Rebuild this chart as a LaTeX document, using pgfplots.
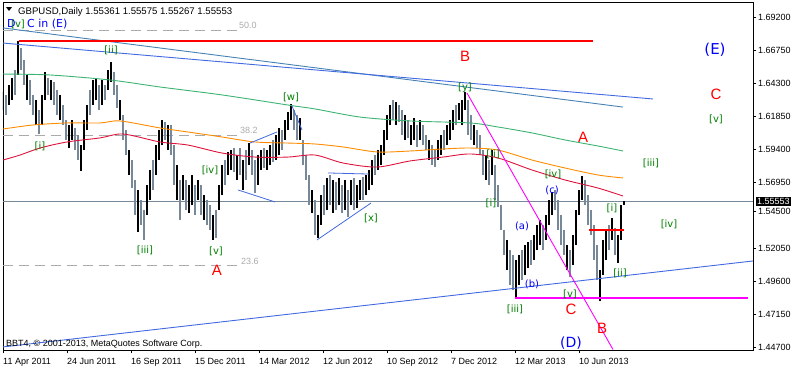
\documentclass[border=0pt]{standalone}
\usepackage{pgfplots}
\pgfplotsset{compat=1.18}
\usepackage{pgfplotstable}
\usepackage{fontspec}
\setmainfont{Liberation Sans}
\newfontfamily\dv{DejaVu Sans}
\definecolor{barGray}{RGB}{119,136,153}
\definecolor{maGreen}{RGB}{60,179,113}
\definecolor{maOrange}{RGB}{255,140,0}
\definecolor{maCrimson}{RGB}{220,20,60}
\definecolor{royal}{RGB}{65,105,225}
\definecolor{steel}{RGB}{70,130,180}
\definecolor{fibGray}{RGB}{170,170,170}
\definecolor{wGreen}{RGB}{0,128,0}
\definecolor{wBlue}{RGB}{0,0,255}
\definecolor{mag}{RGB}{255,0,255}
\definecolor{rd}{RGB}{255,0,0}

\pgfplotstableread{
x lo hi c
3 1.6232 1.6366 1
6 1.6195 1.6344 0
9 1.6269 1.6418 1
12 1.6306 1.6470 1
15 1.6344 1.6529 0
18 1.6492 1.6742 1
21 1.6529 1.6692 0
24 1.6418 1.6603 0
27 1.6306 1.6492 1
30 1.6269 1.6455 0
33 1.6195 1.6344 0
36 1.6121 1.6306 1
39 1.6054 1.6232 0
42 1.6121 1.6344 1
45 1.6306 1.6514 1
48 1.6344 1.6470 0
51 1.6306 1.6455 1
54 1.6269 1.6440 0
57 1.6195 1.6381 0
60 1.6158 1.6344 1
63 1.6121 1.6269 0
66 1.6010 1.6158 0
69 1.5950 1.6121 1
72 1.6010 1.6158 1
75 1.5935 1.6099 0
78 1.5861 1.6047 0
81 1.5780 1.5972 1
84 1.5935 1.6158 1
87 1.6084 1.6269 1
90 1.6195 1.6381 0
93 1.6269 1.6455 1
96 1.6306 1.6470 1
99 1.6232 1.6418 0
102 1.6269 1.6455 1
105 1.6306 1.6418 0
108 1.6381 1.6529 1
111 1.6440 1.6588 1
114 1.6344 1.6514 0
117 1.6247 1.6418 0
120 1.6158 1.6306 1
123 1.6010 1.6195 0
126 1.5898 1.6084 0
129 1.5750 1.5935 1
132 1.5653 1.5861 0
135 1.5453 1.5713 0
138 1.5327 1.5639 1
141 1.5379 1.5564 0
144 1.5268 1.5490 0
147 1.5453 1.5676 1
150 1.5564 1.5787 1
153 1.5639 1.5861 0
156 1.5750 1.5972 1
159 1.5861 1.6084 1
162 1.5972 1.6158 1
165 1.6010 1.6143 0
168 1.5935 1.6121 1
171 1.5898 1.6121 0
174 1.5676 1.5972 0
177 1.5564 1.5824 1
180 1.5416 1.5713 0
183 1.5564 1.5750 1
186 1.5490 1.5713 0
189 1.5468 1.5676 1
192 1.5527 1.5750 1
195 1.5453 1.5676 0
198 1.5564 1.5713 1
201 1.5453 1.5676 0
204 1.5416 1.5601 1
207 1.5379 1.5564 0
210 1.5342 1.5527 0
213 1.5268 1.5453 1
216 1.5283 1.5490 0
219 1.5490 1.5676 1
222 1.5601 1.5824 1
225 1.5676 1.5861 0
228 1.5750 1.5921 1
231 1.5787 1.5935 1
234 1.5772 1.5950 0
237 1.5713 1.5898 1
240 1.5750 1.5950 0
243 1.5639 1.5861 1
246 1.5713 1.5935 0
249 1.5824 1.5987 1
252 1.5750 1.5935 0
255 1.5616 1.5861 0
258 1.5676 1.5898 1
261 1.5787 1.5935 1
264 1.5802 1.5950 0
267 1.5787 1.5935 1
270 1.5824 1.5972 1
273 1.5846 1.6010 0
276 1.5861 1.6047 1
279 1.5898 1.6099 1
282 1.5935 1.6084 0
285 1.6010 1.6158 1
288 1.6084 1.6217 1
291 1.6158 1.6277 1
294 1.6084 1.6232 0
297 1.6010 1.6195 0
300 1.6010 1.6173 1
303 1.5824 1.6010 0
306 1.5713 1.5898 0
309 1.5527 1.5750 0
312 1.5468 1.5639 1
315 1.5305 1.5564 0
318 1.5283 1.5453 1
321 1.5379 1.5601 1
324 1.5453 1.5676 0
327 1.5490 1.5728 1
330 1.5527 1.5750 0
333 1.5468 1.5713 1
336 1.5490 1.5698 0
339 1.5527 1.5728 1
342 1.5468 1.5676 0
345 1.5490 1.5713 1
348 1.5438 1.5639 0
351 1.5527 1.5713 1
354 1.5490 1.5728 0
357 1.5505 1.5676 1
360 1.5564 1.5713 1
363 1.5564 1.5735 0
366 1.5601 1.5750 1
369 1.5639 1.5787 1
372 1.5676 1.5861 1
375 1.5750 1.5898 0
378 1.5787 1.5935 1
381 1.5824 1.5972 1
384 1.5898 1.6084 1
387 1.6010 1.6195 1
390 1.6121 1.6269 1
393 1.6158 1.6306 0
396 1.6121 1.6292 1
399 1.6143 1.6269 0
402 1.6047 1.6232 0
405 1.6010 1.6195 1
408 1.6025 1.6158 0
411 1.5972 1.6121 1
414 1.6010 1.6173 1
417 1.5958 1.6121 0
420 1.6010 1.6158 1
423 1.5972 1.6121 0
426 1.5935 1.6047 0
429 1.5861 1.6010 1
432 1.5824 1.5972 0
435 1.5809 1.5935 0
438 1.5861 1.6010 1
441 1.5898 1.6047 1
444 1.5935 1.6084 0
447 1.5972 1.6121 1
450 1.6010 1.6158 1
453 1.6084 1.6232 1
456 1.6121 1.6269 0
459 1.6158 1.6284 1
462 1.6121 1.6306 1
465 1.6232 1.6366 1
468 1.6047 1.6306 0
471 1.6010 1.6195 0
474 1.5972 1.6121 1
477 1.5950 1.6084 0
480 1.5898 1.6047 0
483 1.5750 1.5935 0
486 1.5713 1.5898 1
489 1.5676 1.5861 0
492 1.5750 1.5935 1
495 1.5564 1.5824 0
498 1.5512 1.5676 0
501 1.5342 1.5527 0
504 1.5156 1.5342 0
507 1.5045 1.5268 1
510 1.4934 1.5193 0
513 1.4897 1.5156 0
516 1.4845 1.5119 1
519 1.4934 1.5156 1
522 1.4971 1.5193 0
525 1.5008 1.5231 1
528 1.5060 1.5253 1
531 1.5082 1.5268 0
534 1.5119 1.5305 1
537 1.5193 1.5379 1
540 1.5231 1.5416 1
543 1.5193 1.5379 0
546 1.5268 1.5453 1
549 1.5379 1.5564 1
552 1.5453 1.5624 1
555 1.5490 1.5639 0
558 1.5342 1.5564 0
561 1.5231 1.5453 0
564 1.5156 1.5342 0
567 1.5045 1.5231 1
570 1.4993 1.5193 0
573 1.5082 1.5305 1
576 1.5231 1.5490 1
579 1.5453 1.5639 1
582 1.5564 1.5743 1
585 1.5527 1.5713 0
588 1.5379 1.5601 0
591 1.5305 1.5490 0
594 1.5119 1.5379 0
597 1.4971 1.5231 0
600 1.4815 1.5045 1
603 1.5008 1.5268 1
606 1.5119 1.5342 1
609 1.5193 1.5379 0
612 1.5268 1.5431 1
615 1.5156 1.5357 0
618 1.5097 1.5305 1
621 1.5268 1.5527 1
624 1.55267 1.55575 1
}\bars

\begin{document}
\begin{tikzpicture}
\path[use as bounding box] (0,0) rectangle (796pt,369pt);
\begin{axis}[
  at={(3pt,18.5pt)}, anchor=south west, scale only axis,
  width=750pt, height=348.5pt,
  xmin=3, xmax=753, ymin=1.44477, ymax=1.70336,
  axis line style={black, line width=0.8pt},
  xtick={3,67,131,195,259,323,387,451,515,579},
  xticklabels={11 Apr 2011,24 Jun 2011,16 Sep 2011,15 Dec 2011,14 Mar 2012,12 Jun 2012,10 Sep 2012,7 Dec 2012,12 Mar 2013,10 Jun 2013},
  ytick={1.447,1.4715,1.496,1.5205,1.5478,1.5695,1.594,1.6185,1.643,1.6675,1.692},
  yticklabels={1.44700,1.47150,1.49600,1.52050,1.54500,1.56950,1.59400,1.61850,1.64300,1.66750,1.69200},
  xtick pos=left, ytick pos=right, yticklabel pos=right,
  tick align=outside, major tick length=3pt,
  tick style={black, line width=0.6pt},
  /pgf/number format/assume math mode=true,
  xticklabel style={anchor=north west, inner sep=0pt, yshift=-4.5pt, font=\fontsize{9}{10}\selectfont},
  yticklabel style={anchor=west, inner sep=0pt, xshift=2pt, font=\fontsize{9}{10}\selectfont},
]
% fib levels
\addplot[fibGray, line width=1pt, dash pattern=on 10pt off 6pt] coordinates {(3,1.6824) (238,1.6824)};
\addplot[fibGray, line width=1pt, dash pattern=on 10pt off 6pt] coordinates {(3,1.6043) (238,1.6043)};
\addplot[fibGray, line width=1pt, dash pattern=on 10pt off 6pt] coordinates {(3,1.5077) (238,1.5077)};
% current price line
\addplot[barGray, line width=0.8pt] coordinates {(3,1.55553) (753,1.55553)};
% bars
\addplot[draw=none, mark=none, restrict expr to domain={\thisrow{c}}{0:0},
  error bars/.cd, y dir=plus, y explicit, error mark=none,
  error bar style={draw=barGray, line width=2.2pt}]
  table[x=x, y=lo, y error expr=\thisrow{hi}-\thisrow{lo}] {\bars};
\addplot[draw=none, mark=none, restrict expr to domain={\thisrow{c}}{1:1},
  error bars/.cd, y dir=plus, y explicit, error mark=none,
  error bar style={draw=black, line width=2.2pt}]
  table[x=x, y=lo, y error expr=\thisrow{hi}-\thisrow{lo}] {\bars};
% moving averages
\addplot[maGreen, line width=0.9pt, smooth] coordinates {(3,1.6499) (50,1.6492) (110,1.6455) (160,1.6403) (222,1.6344) (288,1.6269) (315,1.6240) (360,1.6180) (410,1.6151) (470,1.6136) (498,1.6106) (532,1.6062) (565,1.6010) (598,1.5965) (623,1.5928)};
\addplot[maOrange, line width=0.9pt, smooth] coordinates {(3,1.6091) (33,1.6121) (67,1.6136) (100,1.6136) (120,1.6151) (160,1.6099) (188,1.6069) (222,1.6032) (255,1.5995) (288,1.5987) (315,1.5980) (343,1.5958) (377,1.5921) (410,1.5928) (443,1.5943) (470,1.5950) (498,1.5935) (532,1.5861) (565,1.5802) (598,1.5750) (623,1.5728)};
\addplot[maCrimson, line width=0.9pt, smooth] coordinates {(3,1.5861) (20,1.5898) (40,1.5950) (67,1.5995) (100,1.6025) (123,1.6054) (160,1.5995) (188,1.5972) (222,1.5913) (255,1.5883) (288,1.5883) (315,1.5898) (343,1.5839) (377,1.5809) (410,1.5854) (443,1.5883) (470,1.5906) (498,1.5876) (532,1.5787) (565,1.5713) (598,1.5653) (623,1.5594)};
% trend lines
\addplot[steel, line width=0.9pt] coordinates {(3,1.6841) (623,1.6254)};
\addplot[royal, line width=0.9pt] coordinates {(3,1.6729) (653,1.6314)};
\addplot[royal, line width=0.9pt] coordinates {(3,1.4474) (753,1.5112)};
\addplot[royal, line width=0.8pt] coordinates {(238,1.5639) (275,1.5550)};
\addplot[royal, line width=0.8pt] coordinates {(250,1.5987) (277,1.6069)};
\addplot[royal, line width=0.8pt] coordinates {(292,1.6262) (302,1.6084)};
\addplot[royal, line width=0.8pt] coordinates {(328,1.5765) (369,1.5757)};
\addplot[royal, line width=0.8pt] coordinates {(317,1.5268) (371,1.5542)};
\addplot[mag, line width=0.9pt] coordinates {(467,1.6358) (613,1.4455)};
% horizontal objects
\addplot[rd, line width=2.6pt] coordinates {(19,1.6744) (593,1.6744)};
\addplot[rd, line width=1.8pt] coordinates {(589,1.5342) (624,1.5342)};
\addplot[mag, line width=2.6pt] coordinates {(515,1.4837) (748,1.4837)};
\coordinate (pb) at (axis cs:753,1.55553);

% texts
\node[fibGray, anchor=west, inner sep=0pt, font=\fontsize{9}{10}\selectfont] at (axis cs:239,1.6863) {50.0};
\node[fibGray, anchor=west, inner sep=0pt, font=\fontsize{9}{10}\selectfont] at (axis cs:240,1.6080) {38.2};
\node[fibGray, anchor=west, inner sep=0pt, font=\fontsize{9}{10}\selectfont] at (axis cs:241,1.5112) {23.6};
\node[anchor=base west, inner sep=0pt, font=\fontsize{9.6}{10}\selectfont] at (axis cs:18,1.6943) {GBPUSD,Daily 1.55361 1.55575 1.55267 1.55553};
\fill[black] (axis cs:6,1.6996) -- (axis cs:12,1.6996) -- (axis cs:9,1.6967) -- cycle;
\node[anchor=base west, inner sep=0pt, font=\fontsize{9}{10}\selectfont] at (axis cs:6,1.4474) {BBT4, \textcopyright{} 2001-2013, MetaQuotes Software Corp.};

\node[wBlue, anchor=base west, inner sep=0pt, font=\dv\fontsize{11}{12}\selectfont] at (axis cs:7,1.6843) {D};
\node[wBlue, anchor=base west, inner sep=0pt, font=\dv\fontsize{11}{12}\selectfont] at (axis cs:27,1.6843) {C in (E)};

\begin{scope}[every node/.style={inner sep=0pt, font=\dv\fontsize{10}{12}\selectfont, text=wGreen}]
\node at (axis cs:18,1.6870) {[v]};
\node at (axis cs:111,1.6677) {[ii]};
\node at (axis cs:40,1.5965) {[i]};
\node at (axis cs:145,1.5193) {[iii]};
\node at (axis cs:210,1.5787) {[iv]};
\node at (axis cs:216,1.5186) {[v]};
\node at (axis cs:291,1.6329) {[w]};
\node at (axis cs:371,1.5431) {[x]};
\node at (axis cs:465,1.6395) {[y]};
\node at (axis cs:493,1.5906) {[ii]};
\node at (axis cs:491,1.5542) {[i]};
\node at (axis cs:515,1.4756) {[iii]};
\node at (axis cs:553,1.5757) {[iv]};
\node at (axis cs:570,1.4867) {[v]};
\node at (axis cs:612,1.5505) {[i]};
\node at (axis cs:620,1.5023) {[ii]};
\node at (axis cs:651,1.5839) {[iii]};
\node at (axis cs:669,1.5386) {[iv]};
\node at (axis cs:716,1.6165) {[v]};
\end{scope}
\begin{scope}[every node/.style={inner sep=0pt, font=\dv\fontsize{10}{12}\selectfont, text=wBlue}]
\node at (axis cs:522,1.5372) {(a)};
\node at (axis cs:532,1.4941) {(b)};
\node at (axis cs:552,1.5639) {(c)};
\node[font=\dv\fontsize{14}{16}\selectfont] at (axis cs:571,1.4503) {(D)};
\node[font=\dv\fontsize{15}{17}\selectfont] at (axis cs:715,1.6677) {(E)};
\end{scope}
\begin{scope}[every node/.style={inner sep=0pt, font=\fontsize{15}{17}\selectfont, text=rd}]
\node at (axis cs:217,1.5045) {A};
\node at (axis cs:465,1.6633) {B};
\node at (axis cs:571,1.4756) {C};
\node at (axis cs:602,1.4615) {B};
\node at (axis cs:583,1.6032) {A};
\node at (axis cs:716,1.6351) {C};
\end{scope}
\end{axis}
\node[anchor=west, fill=black, text=white, inner xsep=1pt, inner ysep=1.5pt, font=\fontsize{9}{10}\selectfont, xshift=3pt] at (pb) {1.55553};
\end{tikzpicture}
\end{document}
